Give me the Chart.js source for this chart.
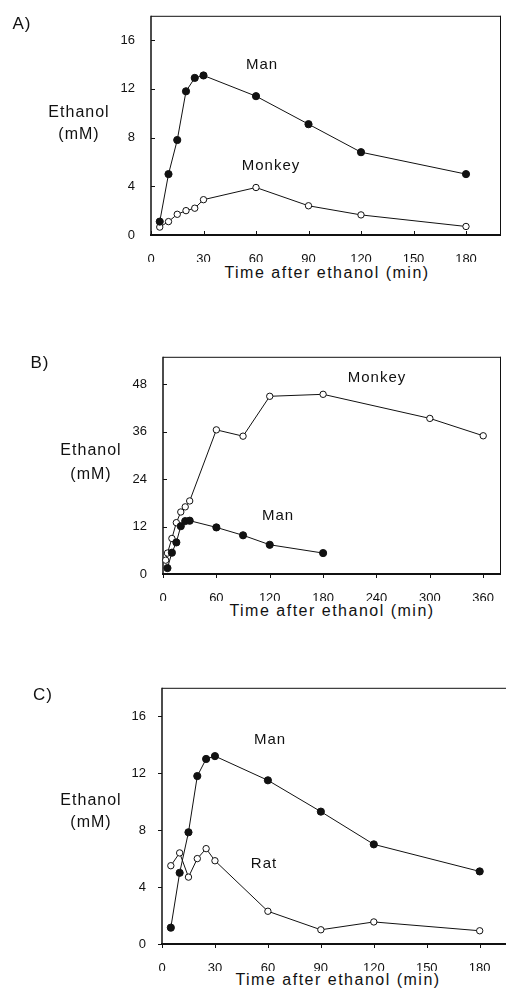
<!DOCTYPE html>
<html>
<head>
<meta charset="utf-8">
<script src="https://cdn.jsdelivr.net/npm/chart.js@4.4.1/dist/chart.umd.min.js"></script>
<style>
  html,body{margin:0;padding:0;background:#fff;}
  body{width:506px;height:989px;overflow:hidden;position:relative;font-family:"Liberation Sans",Arial,sans-serif;color:#111;}
  canvas{position:absolute;left:0;}
  .t{position:absolute;transform:translate(-50%,-50%);white-space:nowrap;line-height:1;}
  .lab{font-size:15px;letter-spacing:1px;}
  .ax{font-size:16px;letter-spacing:1.5px;}
  .yt{font-size:16px;letter-spacing:1px;}
  .pl{font-size:17px;letter-spacing:1px;}
</style>
</head>
<body>
<canvas id="cA" width="506" height="262" style="top:0px;width:506px;height:262px"></canvas>
<canvas id="cB" width="506" height="260" style="top:341px;width:506px;height:260px"></canvas>
<canvas id="cC" width="520" height="299" style="top:672px;width:520px;height:299px"></canvas>

<div class="t pl" style="left:22px;top:23px">A)</div>
<div class="t yt" style="left:79px;top:112px">Ethanol</div>
<div class="t yt" style="left:79px;top:134px">(mM)</div>
<div class="t lab" style="left:262px;top:63px">Man</div>
<div class="t lab" style="left:271px;top:164px">Monkey</div>
<div class="t ax" style="left:327px;top:273px">Time after ethanol (min)</div>

<div class="t pl" style="left:40px;top:362px">B)</div>
<div class="t yt" style="left:91px;top:450px">Ethanol</div>
<div class="t yt" style="left:91px;top:474px">(mM)</div>
<div class="t lab" style="left:377px;top:376px">Monkey</div>
<div class="t lab" style="left:278px;top:514px">Man</div>
<div class="t ax" style="left:332px;top:611px">Time after ethanol (min)</div>

<div class="t pl" style="left:43px;top:694px">C)</div>
<div class="t yt" style="left:91px;top:800px">Ethanol</div>
<div class="t yt" style="left:91px;top:822px">(mM)</div>
<div class="t lab" style="left:270px;top:738px">Man</div>
<div class="t lab" style="left:264px;top:862px">Rat</div>
<div class="t ax" style="left:338px;top:980px">Time after ethanol (min)</div>

<script>
// ---------- data ----------
// Panel A
const timeA = [5, 10, 15, 20, 25, 30, 60, 90, 120, 180];
const manA = [1.1, 5.0, 7.8, 11.8, 12.9, 13.1, 11.4, 9.1, 6.8, 5.0];
const monkeyA = [0.65, 1.1, 1.7, 2.0, 2.2, 2.9, 3.9, 2.4, 1.65, 0.7];
const xTicksA = [0, 30, 60, 90, 120, 150, 180];
const yTicksA = [0, 4, 8, 12, 16];

// Panel B
const manTimeB = [5, 10, 15, 20, 25, 30, 60, 90, 120, 180];
const manB = [1.5, 5.4, 8.0, 12.1, 13.4, 13.5, 11.8, 9.8, 7.4, 5.3];
const monkeyTimeB = [3, 5, 10, 15, 20, 25, 30, 60, 90, 120, 180, 300, 360];
const monkeyB = [3.5, 5.3, 9.0, 13.0, 15.7, 17.0, 18.5, 36.5, 34.9, 45.0, 45.5, 39.4, 35.0];
const xTicksB = [0, 60, 120, 180, 240, 300, 360];
const yTicksB = [0, 12, 24, 36, 48];

// Panel C
const timeC = [5, 10, 15, 20, 25, 30, 60, 90, 120, 180];
const manC = [1.15, 5.0, 7.85, 11.8, 13.0, 13.2, 11.5, 9.3, 7.0, 5.1];
const ratC = [5.5, 6.4, 4.7, 6.0, 6.7, 5.85, 2.3, 1.0, 1.55, 0.93];
const xTicksC = [0, 30, 60, 90, 120, 150, 180];
const yTicksC = [0, 4, 8, 12, 16];

// ---------- helpers ----------
const INK = '#111';
function pts(xs, ys) { return xs.map((x, i) => ({ x: x, y: ys[i] })); }

function filledSet(xs, ys) {
  return { data: pts(xs, ys), showLine: true, borderColor: INK, borderWidth: 1,
    pointStyle: 'circle', pointRadius: 3.6, pointBackgroundColor: INK,
    pointBorderColor: INK, pointBorderWidth: 1, clip: false };
}
function openSet(xs, ys) {
  return { data: pts(xs, ys), showLine: true, borderColor: INK, borderWidth: 1,
    pointStyle: 'circle', pointRadius: 3.2, pointBackgroundColor: '#fff',
    pointBorderColor: INK, pointBorderWidth: 1, clip: false };
}

const framePlugin = {
  id: 'frame',
  beforeDatasetsDraw(chart, args, opts) {
    const { ctx, chartArea: a, scales } = chart;
    const x = scales.x, y = scales.y;
    ctx.save();
    ctx.strokeStyle = INK;
    ctx.lineWidth = 1;
    ctx.beginPath();
    ctx.moveTo(a.left, a.top + 0.5); ctx.lineTo(a.right, a.top + 0.5);
    ctx.moveTo(a.right - 0.5, a.top); ctx.lineTo(a.right - 0.5, a.bottom);
    ctx.stroke();
    ctx.lineWidth = 1.5;
    ctx.beginPath();
    ctx.moveTo(a.left, a.top); ctx.lineTo(a.left, a.bottom);
    ctx.stroke();
    ctx.lineWidth = 2;
    ctx.beginPath();
    ctx.moveTo(a.left - 1, a.bottom); ctx.lineTo(a.right, a.bottom);
    ctx.stroke();
    ctx.lineWidth = 1;
    ctx.beginPath();
    const xd = opts.xIn ? -4 : 4, yd = opts.yIn ? 4 : -4;
    x.ticks.forEach(t => { const p = Math.round(x.getPixelForValue(t.value)) + 0.5; ctx.moveTo(p, a.bottom); ctx.lineTo(p, a.bottom + xd); });
    y.ticks.forEach(t => { const p = Math.round(y.getPixelForValue(t.value)) + 0.5; ctx.moveTo(a.left, p); ctx.lineTo(a.left + yd, p); });
    ctx.stroke();
    ctx.restore();
  }
};

function makeChart(id, datasets, xMax, yMax, xTicks, yTicks, yWidth, padding, tickDir) {
  const font = { family: '"Liberation Sans", Arial, sans-serif', size: 13 };
  return new Chart(document.getElementById(id), {
    type: 'scatter',
    data: { datasets: datasets },
    options: {
      responsive: false, animation: false, events: [],
      layout: { padding: padding },
      plugins: { legend: { display: false }, tooltip: { enabled: false }, frame: tickDir },
      scales: {
        x: {
          type: 'linear', min: 0, max: xMax,
          grid: { display: false }, border: { display: false },
          afterBuildTicks: s => { s.ticks = xTicks.map(v => ({ value: v })); },
          afterFit: s => { s.height = 27; },
          ticks: { color: INK, font: font, padding: 9, maxRotation: 0, autoSkip: false }
        },
        y: {
          type: 'linear', min: 0, max: yMax,
          grid: { display: false }, border: { display: false },
          afterBuildTicks: s => { s.ticks = yTicks.map(v => ({ value: v })); },
          afterFit: s => { s.width = yWidth; },
          ticks: { color: INK, font: font, padding: 8, autoSkip: false }
        }
      }
    },
    plugins: [framePlugin]
  });
}

makeChart('cA', [filledSet(timeA, manA), openSet(timeA, monkeyA)],
  200, 18, xTicksA, yTicksA, 151, { top: 11, right: 4, left: 0, bottom: 0 }, { xIn: true, yIn: true });

makeChart('cB', [filledSet(manTimeB, manB), openSet(monkeyTimeB, monkeyB)],
  380, 55, xTicksB, yTicksB, 163, { top: 11, right: 4, left: 0, bottom: 0 }, { xIn: false, yIn: true });

makeChart('cC', [filledSet(timeC, manC), openSet(timeC, ratC)],
  200, 18, xTicksC, yTicksC, 162, { top: 9, right: 5, left: 0, bottom: 0 }, { xIn: false, yIn: false });
</script>
</body>
</html>
